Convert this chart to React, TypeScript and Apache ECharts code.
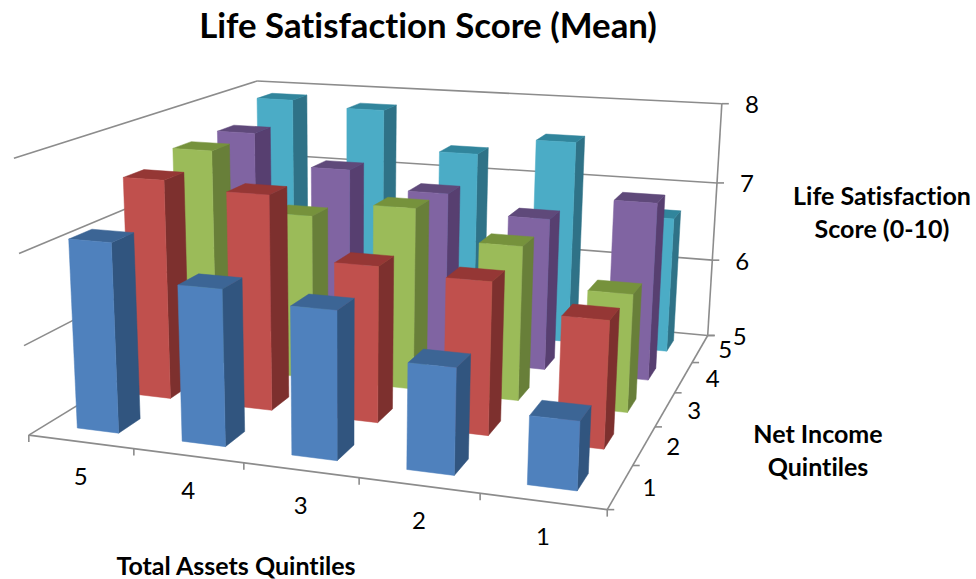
import React, { useEffect, useRef } from "react";
import * as echarts from "echarts";

const WIDTH = 976;
const HEIGHT = 579;
const FONT = "Lato, 'Open Sans', sans-serif";

const titleText = "Life Satisfaction Score (Mean)";
const assetLabels = ["5", "4", "3", "2", "1"];
const incomeLabels = ["1", "2", "3", "4", "5"];
const valueTicks = [5, 6, 7, 8];

// Life satisfaction by total-assets quintile (5 down to 1), one list per income quintile.
const income1 = [7.1, 6.71, 6.6, 6.13, 5.72];
const income2 = [7.53, 7.45, 6.76, 6.7, 6.4];
const income3 = [7.65, 6.96, 7.14, 6.8, 6.36];
const income4 = [7.66, 7.28, 7.07, 6.85, 7.13];
const income5 = [7.9, 7.83, 7.34, 7.56, 6.69];

// Front, side and top shades of each income quintile's bars.
const shades = [
  ["#4F81BD", "#31557F", "#3C6595"],
  ["#C0504D", "#7D302E", "#953735"],
  ["#9BBB59", "#687F39", "#76923C"],
  ["#8064A2", "#573F70", "#5F497A"],
  ["#4BACC6", "#2F7287", "#31859C"],
];
const incomeRows = [income1, income2, income3, income4, income5];

// Box corners of the 3D plot as (assets, income, value) -> page position.
const anchors: number[][] = [
  [0, 0, 5, 29, 435],
  [5, 0, 5, 607, 510],
  [5, 5, 5, 708, 335],
  [0, 5, 5, 260, 294],
  [0, 0, 6, 24, 346],
  [0, 0, 7, 19, 253],
  [0, 0, 8, 14, 158],
  [0, 5, 8, 257, 81],
  [5, 5, 6, 712, 260],
  [5, 5, 7, 717, 183],
  [5, 5, 8, 722, 104],
];

// Least-squares fit of an 11-parameter perspective camera.
function fitCamera(points: number[][]): number[] {
  const n = 11;
  const ata = Array.from({ length: n }, () => new Array(n + 1).fill(0));
  const addRow = (row: number[], rhs: number) => {
    for (let a = 0; a < n; a++) {
      for (let b = 0; b < n; b++) ata[a][b] += row[a] * row[b];
      ata[a][n] += row[a] * rhs;
    }
  };
  for (const [x, y, v, px, py] of points) {
    const z = v - 5;
    const u = px / 1000;
    const w = py / 1000;
    addRow([x, y, z, 1, 0, 0, 0, 0, -u * x, -u * y, -u * z], u);
    addRow([0, 0, 0, 0, x, y, z, 1, -w * x, -w * y, -w * z], w);
  }
  for (let c = 0; c < n; c++) {
    let pivot = c;
    for (let r = c + 1; r < n; r++) if (Math.abs(ata[r][c]) > Math.abs(ata[pivot][c])) pivot = r;
    [ata[c], ata[pivot]] = [ata[pivot], ata[c]];
    for (let r = 0; r < n; r++) {
      if (r === c) continue;
      const f = ata[r][c] / ata[c][c];
      for (let k = c; k <= n; k++) ata[r][k] -= f * ata[c][k];
    }
  }
  return ata.map((row, i) => row[n] / row[i]);
}

const cam = fitCamera(anchors);

function project(x: number, y: number, v: number): number[] {
  const z = v - 5;
  const d = cam[8] * x + cam[9] * y + cam[10] * z + 1;
  return [
    (1000 * (cam[0] * x + cam[1] * y + cam[2] * z + cam[3])) / d,
    (1000 * (cam[4] * x + cam[5] * y + cam[6] * z + cam[7])) / d,
  ];
}

const BAR_START = 0.3;
const BAR_END = 0.7;
const LINE = "#8C8C8C";
const TICK = 7;

function frameItem() {
  const seg = (a: number[], b: number[], width = 1.6) => ({
    type: "line",
    shape: { x1: a[0], y1: a[1], x2: b[0], y2: b[1] },
    style: { stroke: LINE, lineWidth: width },
  });
  const children: any[] = [];
  // Wall gridlines and the value axis with its ticks.
  for (const v of valueTicks) {
    const corner = project(0, 5, v);
    children.push(seg(project(0, 0, v), corner));
    children.push(seg(corner, project(5, 5, v)));
    const end = project(5, 5, v);
    children.push(seg(end, [end[0] + TICK, end[1]]));
  }
  children.push(seg(project(5, 5, 5), project(5, 5, 8)));
  // Floor edges and ticks.
  children.push(seg(project(0, 0, 5), project(5, 0, 5)));
  children.push(seg(project(5, 0, 5), project(5, 5, 5)));
  for (let k = 0; k <= 5; k++) {
    const a = project(k, 0, 5);
    children.push(seg(a, [a[0], a[1] + TICK]));
    const b = project(5, k, 5);
    children.push(seg(b, [b[0] + TICK, b[1]]));
  }
  return { type: "group", children };
}

function barItem(row: number) {
  return (params: any, api: any) => {
    const sys = params.coordSys;
    const c = api.coord([api.value(0), api.value(1)]);
    const cell = ((c[0] - sys.x) / sys.width) * assetLabels.length - 0.5;
    const top = 5 + (3 * (sys.y + sys.height - c[1])) / sys.height;
    const x0 = cell + BAR_START;
    const x1 = cell + BAR_END;
    const y0 = row + BAR_START;
    const y1 = row + BAR_END;
    const poly = (pts: number[][], fill: string) => ({
      type: "polygon",
      shape: { points: pts },
      style: { fill, stroke: fill, lineWidth: 0.5 },
    });
    const [front, side, lid] = shades[row];
    return {
      type: "group",
      children: [
        poly([project(x1, y0, 5), project(x1, y1, 5), project(x1, y1, top), project(x1, y0, top)], side),
        poly([project(x0, y0, top), project(x1, y0, top), project(x1, y1, top), project(x0, y1, top)], lid),
        poly([project(x0, y0, 5), project(x1, y0, 5), project(x1, y0, top), project(x0, y0, top)], front),
      ],
    };
  };
}

function tickText(text: string, at: number[], dx: number, dy: number) {
  return {
    type: "text",
    x: at[0] + dx,
    y: at[1] + dy,
    style: { text, font: `24px ${FONT}`, fill: "#000", align: "center", verticalAlign: "middle" },
  };
}

function axisTitle(text: string, x: number, y: number) {
  return {
    type: "text",
    x,
    y,
    style: {
      text,
      font: `bold 25px ${FONT}`,
      lineHeight: 33,
      fill: "#000",
      align: "center",
      verticalAlign: "middle",
    },
  };
}

export default function App() {
  const ref = useRef<HTMLDivElement>(null);
  useEffect(() => {
    const chart = echarts.init(ref.current!, undefined, { renderer: "svg" });
    const barSeries = incomeRows
      .map((values, row) => ({
        type: "custom" as const,
        name: `Net income ${incomeLabels[row]}`,
        renderItem: barItem(row),
        encode: { x: 0, y: 1 },
        silent: true,
        clip: false,
        data: values.map((v, i) => [i, v]),
      }))
      .reverse();
    chart.setOption({
      animation: false,
      backgroundColor: "#fff",
      title: {
        text: titleText,
        left: 423,
        top: 2,
        textAlign: "center",
        textStyle: { fontFamily: FONT, fontSize: 34.8, fontWeight: "bold", color: "#000" },
      },
      grid: { left: 0, top: 0, width: WIDTH, height: HEIGHT, show: false },
      xAxis: { type: "category", data: assetLabels, show: false },
      yAxis: { type: "value", min: 5, max: 8, interval: 1, show: false },
      graphic: [
        ...assetLabels.map((t, i) => tickText(t, project(i + 0.5, 0, 5), 0, 34)),
        // The two "5" labels at the back corner sit side by side, so the income one leans left.
        ...incomeLabels.map((t, i) => tickText(t, project(5, i + 0.5, 5), i === 4 ? 25 : 29, 0)),
        ...valueTicks.map((v) => tickText(String(v), project(5, 5, v), v === 5 ? 32 : 30, 0)),
        axisTitle("Life Satisfaction\nScore (0-10)", 882, 211),
        axisTitle("Net Income\nQuintiles", 818, 449),
        axisTitle("Total Assets Quintiles", 236, 565),
      ],
      series: [
        {
          type: "custom",
          name: "Frame",
          renderItem: frameItem,
          silent: true,
          clip: false,
          encode: { x: 0, y: 1 },
          data: [[0, 5]],
        },
        ...barSeries,
      ],
    });
    return () => chart.dispose();
  }, []);
  return (
    <div
      ref={ref}
      style={{
        position: "fixed",
        left: 0,
        top: 0,
        width: WIDTH,
        height: HEIGHT,
        fontVariantLigatures: "none",
        fontFeatureSettings: '"liga" 0, "clig" 0, "dlig" 0',
        textRendering: "optimizeSpeed",
      }}
    />
  );
}
